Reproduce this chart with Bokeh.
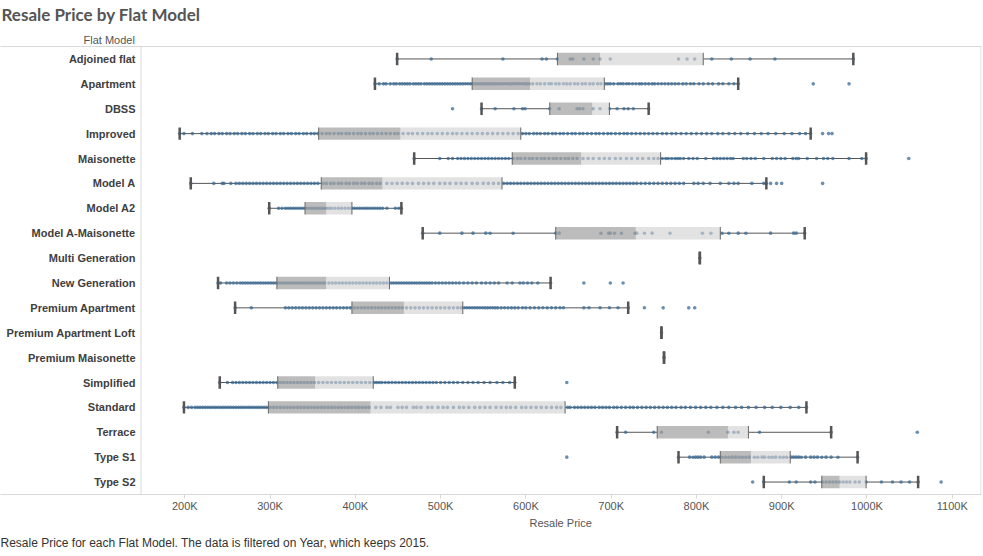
from bokeh.plotting import figure
from bokeh.models import (ColumnDataSource, FactorRange, Range1d, Span, Title,
                          FixedTicker, PrintfTickFormatter, LinearAxis)
from bokeh.core.properties import value
from bokeh.embed import file_html
from bokeh.resources import INLINE

# ---------------- data (resale price, thousands of SGD) ----------------
models = ["Adjoined flat", "Apartment", "DBSS", "Improved", "Maisonette", "Model A",
          "Model A2", "Model A-Maisonette", "Multi Generation", "New Generation",
          "Premium Apartment", "Premium Apartment Loft", "Premium Maisonette",
          "Simplified", "Standard", "Terrace", "Type S1", "Type S2"]

whisker_low = [449, 423, 548, 194, 469, 207, 299, 479, 804, 239, 259, 759, 762, 241, 199, 707, 779, 879]
quartile_1 = [637, 537, 628, 357, 584, 360, 341, 635, 804, 308, 396, 759, 762, 309, 298, 754, 828, 947]
medians = [687, 605, 678, 453, 665, 432, 366, 729, 804, 366, 457, 759, 762, 353, 418, 837, 864, 968]
quartile_3 = [808, 692, 698, 594, 758, 572, 396, 828, 804, 440, 526, 759, 762, 421, 646, 861, 910, 999]
whisker_high = [984, 849, 744, 934, 999, 882, 454, 927, 804, 629, 720, 759, 762, 587, 929, 958, 989, 1060]

tick_values = [200, 300, 400, 500, 600, 700, 800, 900, 1000, 1100]

dots_adjoined = [449, 489, 573, 619, 624, 637, 652, 655, 668, 679, 687, 699, 779, 789, 798,
                 818, 841, 863, 892, 984]
dots_apartment = [423, 428, 433, 436, 441, 445, 448, 452, 455, 458, 461, 464, 468, 471, 474, 477,
                  481, 484, 487, 490, 493, 496, 499, 502, 505, 508, 511, 514, 517, 520, 523, 526,
                  529, 532, 535, 538, 541, 544, 547, 550, 553, 556, 559, 562, 565, 568, 571, 574,
                  577, 580, 583, 586, 589, 592, 595, 598, 601, 604, 608, 613, 617, 622, 627, 630,
                  635, 639, 644, 648, 652, 657, 661, 666, 670, 675, 679, 684, 688, 693, 696, 699,
                  703, 708, 711, 714, 718, 721, 725, 729, 733, 736, 740, 744, 748, 751, 755, 759,
                  763, 767, 771, 775, 779, 784, 788, 793, 797, 803, 808, 814, 819, 826, 831, 838,
                  844, 849, 937, 979]
dots_dbss = [514, 548, 564, 586, 596, 599, 628, 639, 660, 663, 667, 679, 687, 698, 707, 715,
             720, 726, 744]
dots_improved = [194, 199, 209, 220, 226, 231, 235, 240, 244, 249, 253, 258, 262, 267, 271, 276,
                 280, 285, 289, 294, 298, 303, 307, 312, 316, 321, 325, 330, 334, 339, 343, 348,
                 352, 356, 361, 366, 370, 375, 380, 384, 389, 393, 398, 403, 407, 412, 417, 421,
                 426, 431, 436, 441, 446, 450, 456, 462, 467, 473, 479, 485, 490, 496, 502, 508,
                 514, 519, 525, 531, 537, 543, 549, 555, 561, 567, 573, 579, 585, 591, 596, 600,
                 604, 609, 613, 617, 622, 626, 631, 635, 640, 644, 649, 654, 658, 663, 667, 672,
                 677, 682, 686, 691, 696, 700, 705, 710, 715, 719, 724, 729, 734, 739, 744, 749,
                 754, 760, 765, 771, 776, 782, 788, 794, 800, 806, 812, 818, 825, 831, 838, 845,
                 852, 860, 868, 876, 884, 893, 903, 912, 921, 928, 934, 948, 955, 959]
dots_maisonette = [469, 499, 509, 514, 520, 524, 528, 532, 536, 540, 544, 548, 552, 556, 560,
                   564, 568, 572, 576, 580, 585, 590, 594, 599, 604, 608, 613, 618, 622, 627, 632,
                   636, 641, 646, 650, 655, 660, 667, 673, 679, 686, 692, 698, 705, 711, 718, 724,
                   731, 737, 744, 750, 755, 760, 764, 767, 771, 775, 778, 781, 785, 791, 796, 801,
                   811, 820, 824, 828, 832, 836, 840, 843, 855, 859, 864, 869, 879, 889, 894, 899,
                   904, 913, 917, 920, 930, 941, 949, 954, 960, 979, 994, 999, 1049]
dots_model_a = [207, 234, 244, 246, 254, 260, 264, 268, 272, 276, 280, 284, 288, 292, 296, 300,
                304, 308, 312, 316, 320, 324, 328, 332, 336, 340, 344, 348, 352, 356, 362, 366,
                371, 375, 380, 384, 389, 393, 398, 402, 407, 411, 416, 420, 425, 429, 437, 443,
                449, 455, 461, 467, 474, 480, 486, 492, 499, 505, 511, 518, 524, 530, 537, 543,
                550, 556, 562, 568, 574, 578, 582, 586, 590, 594, 598, 602, 606, 610, 614, 618,
                622, 626, 630, 634, 638, 642, 646, 650, 654, 658, 662, 666, 670, 674, 678, 682,
                686, 690, 694, 698, 702, 706, 710, 714, 718, 722, 726, 730, 735, 740, 745, 750,
                755, 760, 765, 770, 775, 780, 785, 797, 802, 808, 816, 828, 838, 844, 849, 865,
                879, 882, 887, 894, 900, 948]
dots_model_a2 = [299, 310, 314, 318, 321, 324, 327, 330, 333, 336, 339, 342, 345, 348, 351, 354,
                 357, 360, 363, 366, 369, 372, 376, 380, 384, 388, 392, 396, 399, 402, 405, 408,
                 411, 414, 417, 420, 423, 426, 429, 432, 437, 447, 451, 454]
dots_model_a_mais = [479, 499, 525, 538, 553, 558, 585, 635, 639, 688, 697, 699, 704, 712, 728,
                     730, 739, 748, 769, 807, 817, 830, 838, 849, 858, 887, 914, 917, 927]
dots_multi_gen = [804]
dots_new_gen = [239, 242, 249, 253, 257, 261, 265, 268, 271, 274, 277, 280, 283, 286, 289, 292,
                295, 298, 301, 304, 307, 310, 313, 316, 319, 322, 325, 328, 331, 334, 337, 340,
                343, 346, 349, 352, 355, 358, 361, 364, 369, 373, 377, 381, 385, 389, 393, 397,
                401, 405, 409, 413, 417, 421, 425, 429, 433, 437, 442, 445, 448, 451, 454, 457,
                460, 463, 466, 469, 472, 475, 478, 481, 484, 487, 490, 494, 498, 502, 506, 510,
                514, 518, 522, 527, 532, 537, 542, 548, 553, 558, 563, 568, 578, 584, 593, 597,
                602, 607, 614, 629, 668, 699, 714]
dots_premium_apt = [259, 278, 318, 322, 326, 330, 334, 338, 342, 346, 350, 354, 358, 362, 366,
                    370, 374, 378, 382, 386, 390, 394, 399, 403, 407, 411, 415, 419, 423, 427, 431,
                    435, 439, 443, 447, 451, 455, 460, 465, 470, 475, 480, 485, 490, 495, 500, 505,
                    510, 515, 520, 524, 528, 531, 534, 537, 540, 543, 546, 549, 552, 555, 558, 561,
                    564, 567, 571, 575, 579, 583, 587, 591, 596, 600, 605, 610, 615, 620, 625, 630,
                    635, 640, 644, 668, 674, 687, 698, 708, 720, 739, 761, 791, 798]
dots_premium_apt_loft = [759]
dots_premium_mais = [762]
dots_simplified = [241, 250, 256, 260, 264, 268, 272, 276, 280, 284, 288, 292, 296, 300, 304, 308,
                   312, 316, 320, 324, 328, 332, 336, 340, 344, 348, 352, 357, 362, 367, 372, 377,
                   382, 387, 392, 397, 402, 407, 412, 417, 422, 425, 428, 431, 435, 439, 443, 447,
                   451, 455, 459, 463, 467, 471, 475, 479, 483, 487, 491, 495, 500, 505, 510, 515,
                   520, 526, 532, 538, 544, 551, 558, 566, 573, 581, 587, 648]
dots_standard = [199, 204, 208, 212, 215, 218, 221, 224, 227, 230, 233, 236, 239, 242, 245, 248,
                 251, 254, 257, 260, 263, 266, 269, 272, 275, 278, 281, 284, 287, 290, 293, 296,
                 300, 304, 308, 312, 316, 320, 324, 328, 332, 336, 340, 344, 348, 352, 356, 360,
                 364, 368, 372, 376, 380, 384, 388, 392, 396, 400, 404, 408, 412, 416, 424, 430,
                 437, 441, 450, 455, 460, 468, 472, 477, 485, 490, 497, 503, 508, 515, 522, 527,
                 533, 540, 546, 552, 558, 565, 571, 577, 582, 588, 595, 600, 606, 612, 618, 624,
                 630, 636, 641, 649, 652, 657, 661, 665, 669, 673, 677, 681, 686, 690, 694, 698,
                 703, 707, 712, 717, 722, 726, 731, 736, 741, 746, 751, 756, 761, 766, 771, 776,
                 782, 787, 793, 799, 805, 811, 817, 824, 831, 838, 846, 853, 861, 870, 880, 889,
                 899, 910, 920, 929]
dots_terrace = [707, 717, 750, 759, 814, 837, 844, 849, 874, 958, 1059]
dots_type_s1 = [648, 779, 792, 796, 799, 802, 805, 809, 818, 822, 826, 830, 834, 838, 842, 846,
                850, 854, 858, 862, 868, 872, 877, 880, 885, 889, 893, 898, 902, 906, 911, 914,
                917, 920, 923, 928, 934, 938, 942, 947, 952, 958, 966, 989]
dots_type_s2 = [866, 879, 909, 917, 934, 939, 948, 952, 956, 960, 964, 968, 972, 976, 980, 986,
                991, 999, 1017, 1030, 1040, 1050, 1060, 1087]

dot_lists = [dots_adjoined, dots_apartment, dots_dbss, dots_improved, dots_maisonette,
             dots_model_a, dots_model_a2, dots_model_a_mais, dots_multi_gen, dots_new_gen,
             dots_premium_apt, dots_premium_apt_loft, dots_premium_mais, dots_simplified,
             dots_standard, dots_terrace, dots_type_s1, dots_type_s2]

# ---------------- layout constants (pixels) ----------------
W, H = 983, 556
FRAME_TOP, FRAME_BOTTOM, FRAME_RIGHT = 46, 494, 981
PX_PER_K = 0.8527          # pixels per 1K on the price axis
PX_AT_200K = 184.3         # pixel position of the 200K tick
x_start = 200 - PX_AT_200K / PX_PER_K
x_end = 200 + (FRAME_RIGHT - PX_AT_200K) / PX_PER_K


def px_to_data(px):
    return x_start + px / PX_PER_K


GRID = "#d9d9d9"
TXT = "#555555"

dot_model, dot_value = [], []
for m, lst in zip(models, dot_lists):
    dot_model += [m] * len(lst)
    dot_value += lst

box_src = ColumnDataSource(dict(model=models, low=whisker_low, q1=quartile_1, med=medians,
                                q3=quartile_3, high=whisker_high))
dot_src = ColumnDataSource(dict(model=dot_model, price=dot_value))

p = figure(width=W, height=H, output_backend="svg", toolbar_location=None,
           x_range=Range1d(x_start, x_end),
           y_range=FactorRange(factors=list(reversed(models))),
           min_border_left=0, min_border_right=W - FRAME_RIGHT,
           min_border_top=FRAME_TOP, min_border_bottom=H - FRAME_BOTTOM,
           outline_line_color=None, background_fill_color="white",
           border_fill_color="white")
p.xgrid.visible = False
p.ygrid.visible = False
p.yaxis.visible = False

ax = p.xaxis[0]
ax.ticker = FixedTicker(ticks=tick_values)
ax.formatter = PrintfTickFormatter(format="%dK")
ax.axis_line_color = GRID
ax.major_tick_line_color = GRID
ax.major_tick_in = 0
ax.major_tick_out = 4
ax.minor_tick_line_color = None
ax.major_label_standoff = 1
ax.major_label_text_font = "Liberation Sans"
ax.major_label_text_font_size = "11px"
ax.major_label_text_color = TXT

top_axis = LinearAxis(ticker=FixedTicker(ticks=[]), axis_line_color=GRID,
                      major_tick_line_color=None, minor_tick_line_color=None,
                      major_tick_out=0, major_tick_in=0, major_label_standoff=0,
                      major_label_text_font_size="0px")
p.add_layout(top_axis, "above")
p.add_layout(Title(text="Flat Model", align="left", offset=83, standoff=2,
                   text_font="Liberation Sans", text_font_size="11px",
                   text_font_style="normal", text_color=TXT), "above")
p.add_layout(Title(text="Resale Price by Flat Model", align="left", offset=1, standoff=7,
                   vertical_align="top",
                   text_font="Lato", text_font_size="17px", text_font_style="bold",
                   text_color=TXT), "above")

p.add_layout(Title(text="Resale Price", align="left", offset=529, standoff=0,
                   text_font="Liberation Sans", text_font_size="11px",
                   text_font_style="normal", text_color=TXT), "below")
p.add_layout(Title(text="Resale Price for each Flat Model. The data is filtered on Year, which keeps 2015.",
                   align="left", offset=0, standoff=11,
                   text_font="Liberation Sans", text_font_size="12px",
                   text_font_style="normal", text_color="#333333"), "below")

p.add_layout(Span(location=px_to_data(140.5), dimension="height", line_color=GRID, line_width=1))
p.add_layout(Span(location=px_to_data(FRAME_RIGHT - 0.5), dimension="height", line_color=GRID,
                  line_width=1))

# whiskers
p.segment(x0="low", y0="model", x1="q1", y1="model", source=box_src, line_color="#555555",
          line_width=1)
p.segment(x0="q3", y0="model", x1="high", y1="model", source=box_src, line_color="#555555",
          line_width=1)

# individual sales
p.scatter(x="price", y="model", source=dot_src, size=3.6, fill_color="#3a6a93",
          fill_alpha=0.75, line_color=None)

# boxes
p.hbar(y="model", left="q1", right="med", height=0.5, source=box_src,
       fill_color="#a0a0a0", fill_alpha=0.7, line_color=None)
p.hbar(y="model", left="med", right="q3", height=0.5, source=box_src,
       fill_color="#cfcfcf", fill_alpha=0.6, line_color=None)
p.rect(x="q1", y="model", width=1, height=0.5, width_units="screen", source=box_src,
       fill_color="#666666", line_color=None)
p.rect(x="q3", y="model", width=1, height=0.5, width_units="screen", source=box_src,
       fill_color="#666666", line_color=None)
# caps
p.rect(x="low", y="model", width=2.5, height=0.5, width_units="screen", source=box_src,
       fill_color="#555555", line_color=None)
p.rect(x="high", y="model", width=2.5, height=0.5, width_units="screen", source=box_src,
       fill_color="#555555", line_color=None)

# row labels
p.text(x=px_to_data(135), y="model", text="model", source=box_src,
       text_font=value("Liberation Sans"), text_font_style="bold", text_font_size="11px",
       text_color="#404040", text_align="right", text_baseline="middle")

open("out.html", "w").write(file_html(p, INLINE))
